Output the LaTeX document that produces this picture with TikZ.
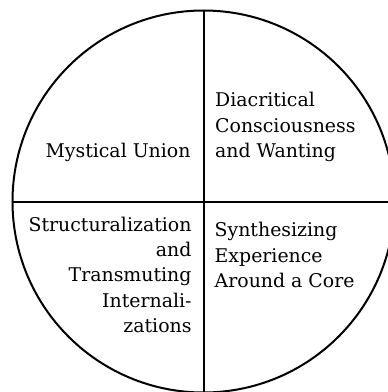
\documentclass[tikz,border=0pt]{standalone}
\usepackage{fontspec}
\setmainfont{DejaVu Serif}
\tikzset{
  frame/.style={line width=2pt},
  label/.style={font=\fontsize{18.9}{25.3}\selectfont, inner sep=0pt}
}
\begin{document}
\begin{tikzpicture}[x=1pt,y=-1pt]
\useasboundingbox (0,0) rectangle (388,392);
\clip (0,0) rectangle (388,392);
\node[draw, frame, circle, minimum size=382pt, inner sep=0pt] (c) at (203.5,201.5) {};
\draw[frame] (c.north) -- (c.south);
\draw[frame] (c.west) -- (c.east);
\node[label, anchor=base east, align=right] (mu) at (190.7,157.3) {Mystical Union};
\node[label, anchor=base west, align=left] (dc) at (215,157.3) {Diacritical\\Consciousness\\and Wanting};
\node[label, anchor=base east, align=right] (st) at (191.7,332.3) {Structuralization\\and\\Transmuting\\Internali-\\zations};
\node[label, anchor=base west, align=left] (sy) at (214.5,287.3) {Synthesizing\\Experience\\Around a Core};
\end{tikzpicture}
\end{document}
